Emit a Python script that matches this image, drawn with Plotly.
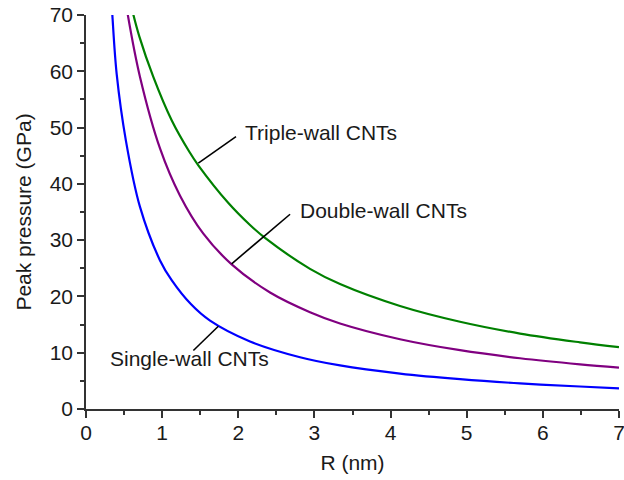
import plotly.graph_objects as go

# Single-wall CNTs
r_single = [0.33, 0.345, 0.403, 0.525, 0.709, 0.972, 1.125, 1.38, 1.629, 2.154, 2.811, 3.336, 4.124, 4.912, 5.70, 6.488, 7.0]
p_single = [73.3, 70.2, 59.5, 47.6, 35.9, 26.4, 22.9, 18.6, 15.7, 12.0, 9.2, 7.74, 6.3, 5.3, 4.55, 4.0, 3.65]

# Double-wall CNTs
r_double = [0.53, 0.548, 0.709, 0.972, 1.235, 1.541, 1.913, 2.417, 2.942, 3.336, 4.124, 4.912, 5.70, 6.488, 7.0]
p_double = [71.7, 70.1, 59.0, 46.3, 37.9, 31.15, 25.7, 20.7, 17.2, 15.2, 12.4, 10.45, 9.02, 7.94, 7.36]

# Triple-wall CNTs
r_triple = [0.59, 0.70, 0.884, 1.125, 1.357, 1.475, 1.87, 2.154, 2.351, 2.942, 3.336, 4.124, 4.912, 5.70, 6.488, 7.0]
p_triple = [71.8, 66.2, 59.0, 51.3, 45.7, 43.3, 36.6, 32.7, 30.4, 24.9, 22.2, 18.3, 15.5, 13.4, 11.85, 11.0]

labels = ["Triple-wall CNTs", "Double-wall CNTs", "Single-wall CNTs"]
# leader lines: (x0, y0) on curve -> (x1, y1) near label; label anchor (left, middle)
lead_x0 = [1.475, 1.913, 1.738]
lead_y0 = [43.7, 25.8, 14.7]
lead_x1 = [1.97, 2.68, 1.41]
lead_y1 = [48.4, 34.6, 10.4]
label_x = [2.06, 2.78, 0.29]
label_y = [49.2, 35.3, 9.0]

FONT = "Liberation Sans, Arial, sans-serif"
FS = 21
AX = "#333333"
TXT = "#1a1a1a"

fig = go.Figure()
for r, p, c in [(r_single, p_single, "#0000FF"),
                (r_double, p_double, "#800080"),
                (r_triple, p_triple, "#008000")]:
    fig.add_trace(go.Scatter(x=r, y=p, mode="lines",
                             line=dict(color=c, width=2.2, shape="spline", smoothing=1.0),
                             showlegend=False, hoverinfo="skip"))

for i, t in enumerate(labels):
    fig.add_shape(type="line", x0=lead_x0[i], y0=lead_y0[i], x1=lead_x1[i], y1=lead_y1[i],
                  xref="x", yref="y", line=dict(color="black", width=1.6))
    fig.add_annotation(x=label_x[i], y=label_y[i], text=t, showarrow=False,
                       xanchor="left", yanchor="middle",
                       font=dict(size=FS, color=TXT, family=FONT))

axis_common = dict(showline=True, linecolor=AX, linewidth=1.5,
                   ticks="outside", ticklen=7, tickwidth=1.5, tickcolor=AX,
                   showgrid=False, zeroline=False, mirror=False,
                   ticklabeloverflow="allow", automargin=False,
                   tickfont=dict(size=FS, color=TXT, family=FONT))

fig.update_xaxes(range=[0, 7], dtick=1, tick0=0, ticklabelstandoff=-3,
                 minor=dict(dtick=0.5, ticks="outside", ticklen=4, tickwidth=1.5, tickcolor=AX),
                 title=dict(text="R (nm)", font=dict(size=FS, color=TXT, family=FONT), standoff=12),
                 **axis_common)
fig.update_yaxes(range=[0, 70], dtick=10, tick0=0,
                 minor=dict(dtick=5, ticks="outside", ticklen=4, tickwidth=1.5, tickcolor=AX),
                 title=dict(text="Peak pressure (GPa)", font=dict(size=FS, color=TXT, family=FONT), standoff=12),
                 **axis_common)

fig.update_layout(width=624, height=480,
                  margin=dict(l=86, r=5, t=15, b=71),
                  plot_bgcolor="white", paper_bgcolor="white",
                  font=dict(family=FONT))

fig.write_html("out.html")
